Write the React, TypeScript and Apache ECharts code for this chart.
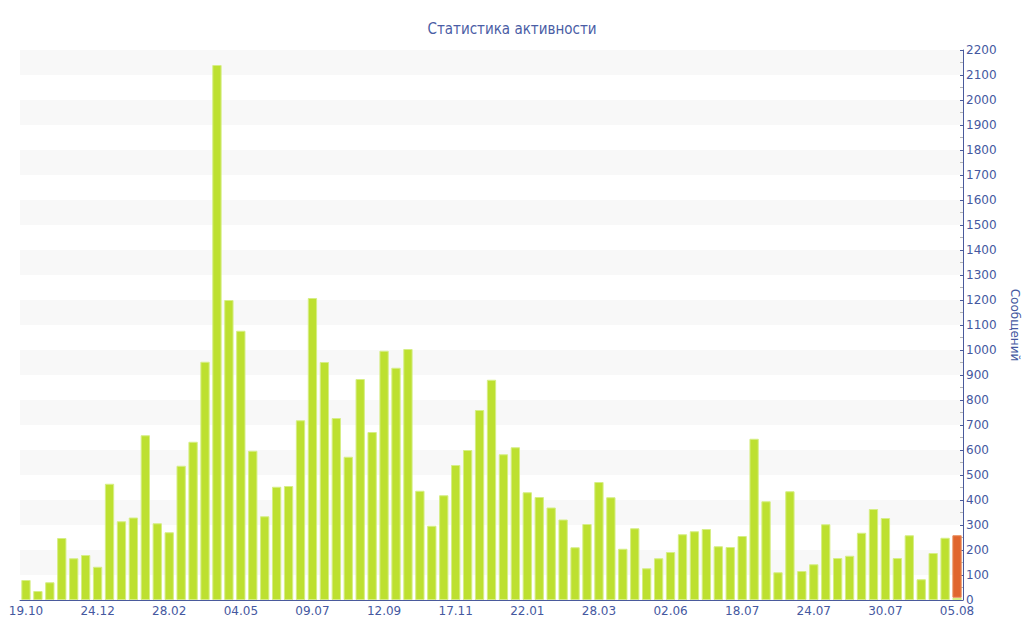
import React, { useEffect, useRef } from "react";
import * as echarts from "echarts";

const categories: string[] = [
  "19.10", "30.10", "10.11", "21.11", "02.12", "13.12", "24.12",
  "04.01", "15.01", "26.01", "06.02", "17.02", "28.02",
  "10.03", "21.03", "01.04", "12.04", "23.04", "04.05",
  "15.05", "26.05", "06.06", "17.06", "28.06", "09.07",
  "20.07", "31.07", "11.08", "22.08", "01.09", "12.09",
  "23.09", "04.10", "15.10", "26.10", "06.11", "17.11",
  "28.11", "09.12", "20.12", "31.12", "11.01", "22.01",
  "02.02", "13.02", "24.02", "06.03", "17.03", "28.03",
  "08.04", "19.04", "30.04", "11.05", "22.05", "02.06",
  "09.06", "17.06", "25.06", "03.07", "11.07", "18.07",
  "19.07", "20.07", "21.07", "22.07", "23.07", "24.07",
  "25.07", "26.07", "27.07", "28.07", "29.07", "30.07",
  "31.07", "01.08", "02.08", "03.08", "04.08", "05.08",
];

const messages: number[] = [
  80, 36, 71, 248, 167, 180, 133, 465, 315, 330,
  659, 307, 271, 537, 633, 953, 2140, 1200, 1077, 597,
  335, 453, 456, 719, 1208, 952, 728, 573, 884, 672,
  997, 929, 1004, 437, 297, 419, 540, 600, 760, 881,
  583, 611, 431, 412, 370, 322, 211, 304, 472, 411,
  205, 287, 127, 167, 192, 263, 275, 284, 215, 212,
  256, 645, 395, 111, 435, 116, 143, 303, 168, 177,
  269, 364, 328, 168, 259, 83, 188, 249, 9,
];

const todayIndex = 78;
const todayExtra = 250;

const yTicks = { min: 0, max: 2200, interval: 100 };

export default function App() {
  const ref = useRef<HTMLDivElement>(null);
  useEffect(() => {
    if (!ref.current) return;
    const chart = echarts.init(ref.current, undefined, { renderer: "svg" });
    const textColor = "#45589f";
    const extra = categories.map((_, i) => (i === todayIndex ? todayExtra : "-"));
    chart.setOption({
      animation: false,
      backgroundColor: "#ffffff",
      textStyle: { fontFamily: "DejaVu Sans, Verdana, sans-serif" },
      title: {
        text: "Статистика активности",
        left: "center",
        top: 16,
        textStyle: {
          color: "#4a5da5",
          fontSize: 15,
          fontWeight: "normal",
          fontFamily: "DejaVu Sans Condensed, Liberation Sans, sans-serif",
        },
      },
      grid: { left: 20, right: 61, top: 50, bottom: 40, outerBoundsMode: "none", containLabel: false },
      xAxis: {
        type: "category",
        data: categories,
        axisLine: { lineStyle: { color: "#4a5a9c", width: 1 } },
        axisTick: {
          interval: 5,
          alignWithLabel: true,
          length: 4,
          lineStyle: { color: "#4a5a9c" },
        },
        axisLabel: {
          interval: 5,
          color: textColor,
          fontSize: 12,
          margin: 5,
        },
        splitLine: { show: false },
      },
      yAxis: {
        type: "value",
        position: "right",
        min: yTicks.min,
        max: yTicks.max,
        interval: yTicks.interval,
        name: "Сообщений",
        nameLocation: "middle",
        nameRotate: -90,
        nameGap: 46,
        nameTextStyle: { color: textColor, fontSize: 12 },
        axisLine: { show: true, lineStyle: { color: "#4a5a9c", width: 1 } },
        axisTick: {
          show: true,
          inside: true,
          length: 3,
          lineStyle: { color: "#4a5a9c" },
        },
        minorTick: {
          show: true,
          splitNumber: 2,
          length: 3,
          lineStyle: { color: "#b5b5b5" },
        },
        axisLabel: {
          color: textColor,
          fontSize: 12,
          margin: 3,
          formatter: (v: number) => String(v),
        },
        splitLine: { show: false },
        splitArea: {
          show: true,
          areaStyle: { color: ["#ffffff", "#f8f8f8"] },
        },
      },
      series: [
        {
          type: "bar",
          name: "Сообщений",
          stack: "total",
          data: messages,
          barCategoryGap: "22%",
          itemStyle: {
            color: "#bde030",
            borderColor: "#d6ee86",
            borderWidth: 1,
          },
        },
        {
          type: "bar",
          name: "Сегодня",
          stack: "total",
          data: extra,
          itemStyle: {
            color: "#e0652e",
            borderColor: "#e98a5a",
            borderWidth: 1,
          },
        },
      ],
    });
    return () => chart.dispose();
  }, []);
  return <div ref={ref} style={{ width: 1024, height: 640, position: "absolute", left: 0, top: 0 }} />;
}
